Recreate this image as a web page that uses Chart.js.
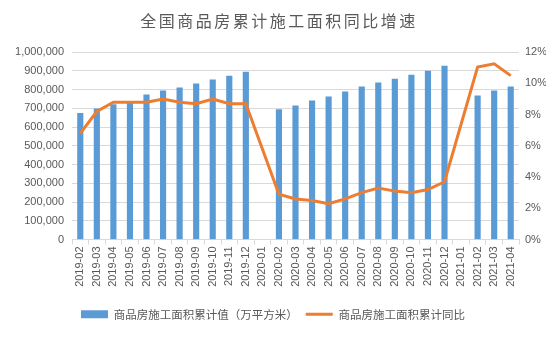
<!DOCTYPE html>
<html><head><meta charset="utf-8">
<script src="https://cdn.jsdelivr.net/npm/chart.js@4/dist/chart.umd.min.js"></script>
<style>html,body{margin:0;padding:0;background:#fff}#wrap{width:554px;height:337px}</style>
</head><body><div id="wrap"><canvas id="c" width="554" height="337"></canvas></div>
<script>
const categories = ["2019-02","2019-03","2019-04","2019-05","2019-06","2019-07","2019-08","2019-09","2019-10","2019-11","2019-12","2020-01","2020-02","2020-03","2020-04","2020-05","2020-06","2020-07","2020-08","2020-09","2020-10","2020-11","2020-12","2021-01","2021-02","2021-03","2021-04"];
const areaValues = [673500,698000,721000,732000,772000,794000,810000,831000,852000,873000,894000,null,693000,714000,741000,762000,788000,815000,836000,857000,878000,899000,926000,null,767000,794000,815000];
const yoyValues = [6.8,8.2,8.8,8.8,8.8,9.0,8.8,8.7,9.0,8.7,8.7,null,2.9,2.6,2.5,2.3,2.6,3.0,3.3,3.1,3.0,3.2,3.7,null,11.05,11.26,10.5];
const leftTicks = {min:0,max:1000000,step:100000};
const rightTicks = {min:0,max:12,step:2};
const seriesNames = ["商品房施工面积累计值（万平方米）","商品房施工面积累计同比"];
const titleText = "全国商品房累计施工面积同比增速";

const tickColor = "#595959";
const numFont = {family:"'Liberation Sans', Arial, sans-serif", size:11};
const cjkFont = {family:"'Noto Sans CJK SC', sans-serif", size:11.5};

const titleSpacing = {
  id:'titleSpacing',
  beforeDraw(chart){
    const tb = chart.titleBlock;
    if (tb && !tb._spaced){
      const orig = tb.draw.bind(tb);
      tb.draw = function(){ const ctx=this.ctx; ctx.save(); ctx.letterSpacing='2.5px'; ctx.translate(6,0); orig(); ctx.restore(); };
      tb._spaced = true;
    }
  }
};

new Chart(document.getElementById('c'), {
  data: {
    labels: categories,
    datasets: [
      {type:'line', label:seriesNames[1], data:yoyValues, yAxisID:'y1', borderColor:'#ED7D31', backgroundColor:'#ED7D31', borderWidth:3, pointRadius:0, pointHoverRadius:0, spanGaps:true, tension:0, order:0},
      {type:'bar', label:seriesNames[0], data:areaValues, yAxisID:'y', backgroundColor:'#5B9BD5', barThickness:5.5, order:1}
    ]
  },
  plugins:[titleSpacing],
  options: {
    responsive:false, animation:false,
    layout:{padding:{left:0,right:8,top:0,bottom:7}},
    plugins:{
      title:{display:true,text:titleText,color:tickColor,font:{family:"'Noto Sans CJK SC', sans-serif",size:16,weight:'normal'},padding:{top:11,bottom:22}},
      tooltip:{enabled:false},
      legend:{position:'bottom',reverse:true,labels:{
        color:tickColor,font:cjkFont,usePointStyle:true,pointStyleWidth:27,boxHeight:8,padding:8,
        generateLabels(chart){
          return chart.data.datasets.map((ds,i)=>({
            text:ds.label,
            fillStyle:ds.type==='bar'?ds.backgroundColor:'rgba(0,0,0,0)',
            strokeStyle:ds.type==='bar'?ds.backgroundColor:ds.borderColor,
            lineWidth:ds.type==='bar'?0:3,
            pointStyle:ds.type==='bar'?'rect':'line',
            fontColor:tickColor,
            hidden:false,datasetIndex:i
          }));
        }
      }}
    },
    scales:{
      x:{offset:true,
        grid:{offset:true,drawOnChartArea:false,drawTicks:true,tickLength:5,color:'#d9d9d9'},
        border:{color:'#d9d9d9'},
        ticks:{color:tickColor,font:numFont,maxRotation:90,minRotation:90,autoSkip:false,padding:2},
        afterFit(s){s.height=61;}
      },
      y:{position:'left',min:leftTicks.min,max:leftTicks.max,
        grid:{color:'#d9d9d9',drawTicks:false},border:{display:false},
        ticks:{stepSize:leftTicks.step,color:tickColor,font:numFont,padding:8,callback:v=>v.toLocaleString('en-US')},
        afterFit(s){s.width=72;}
      },
      y1:{position:'right',min:rightTicks.min,max:rightTicks.max,
        grid:{display:false,drawTicks:false},border:{display:false},
        ticks:{stepSize:rightTicks.step,color:tickColor,font:numFont,padding:6,callback:v=>v+'%'},
        afterFit(s){s.width=27;}
      }
    }
  }
});
</script></body></html>
